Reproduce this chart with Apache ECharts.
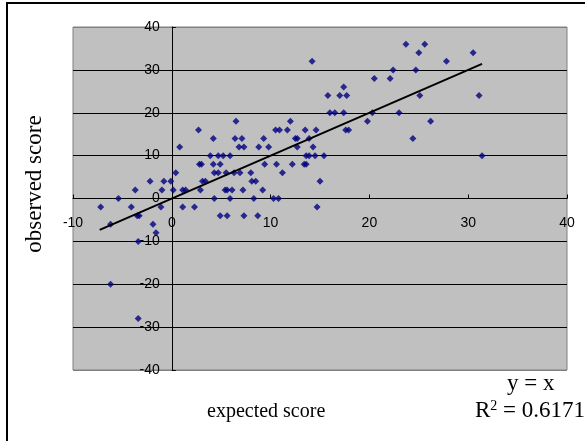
<!DOCTYPE html>
<html>
<head>
<meta charset="utf-8">
<script src="https://cdn.jsdelivr.net/npm/echarts@6/dist/echarts.min.js"></script>
<style>
html,body{margin:0;padding:0;background:#fff;}
#chart{width:585px;height:441px;}
</style>
</head>
<body>
<div id="chart"></div>
<script>
// expected score (x) and observed score (y)
var expectedScores = [
  23.7, 25.6,
  25.0, 30.5,
  14.2, 27.8,
  22.4, 24.7,
  20.5, 22.1,
  17.4,
  15.8, 17.0, 17.7, 25.1, 31.1,
  16.0, 16.5, 17.4, 20.3, 23.0,
  6.5, 12.0, 19.8, 26.2,
  2.7, 10.5, 10.9, 11.7, 13.5, 14.6, 17.6, 17.9,
  4.2, 6.4, 7.1, 9.3, 12.5, 12.7, 13.9, 24.4,
  0.8, 6.8, 7.3, 8.8, 9.8, 12.7, 14.3,
  3.9, 4.7, 5.2, 5.9, 13.6, 13.9, 14.5, 15.4, 31.4,
  2.8, 3.0, 4.2, 4.9, 9.4, 10.6, 12.2, 13.4, 13.6,
  0.4, 4.3, 4.7, 5.5, 6.3, 6.9, 8.0, 11.2,
  -2.2, -0.8, -0.1, 3.1, 3.4, 8.1, 8.5, 15.0,
  -3.7, -1.0, 0.15, 1.1, 1.4, 2.9, 5.4, 5.6, 6.1, 7.2, 9.2,
  -5.4, 4.3, 5.9, 8.3, 10.3, 10.8,
  -7.2, -4.1, -1.1, 1.1, 2.3, 14.7,
  -3.5, -3.3, 4.9, 5.6, 7.3, 8.7,
  -6.2, -1.9,
  -1.6,
  -3.4,
  -6.2,
  -3.4
];
var observedScores = [
  36, 36,
  34, 34,
  32, 32,
  30, 30,
  28, 28,
  26,
  24, 24, 24, 24, 24,
  20, 20, 20, 20, 20,
  18, 18, 18, 18,
  16, 16, 16, 16, 16, 16, 16, 16,
  14, 14, 14, 14, 14, 14, 14, 14,
  12, 12, 12, 12, 12, 12, 12,
  10, 10, 10, 10, 10, 10, 10, 10, 10,
  8, 8, 8, 8, 8, 8, 8, 8, 8,
  6, 6, 6, 6, 6, 6, 6, 6,
  4, 4, 4, 4, 4, 4, 4, 4,
  2, 2, 2, 2, 2, 2, 2, 2, 2, 2, 2,
  0, 0, 0, 0, 0, 0,
  -2, -2, -2, -2, -2, -2,
  -4, -4, -4, -4, -4, -4,
  -6, -6,
  -8,
  -10,
  -20,
  -28
];
// trend line y = x
var trendX = [-7.3, 31.4];
var trendY = [-7.3, 31.4];

var xTicks = [-10, 0, 10, 20, 30, 40];
var yTicks = [-40, -30, -20, -10, 0, 10, 20, 30, 40];

var points = expectedScores.map(function (x, i) { return [x, observedScores[i]]; });
var trend = trendX.map(function (x, i) { return [x, trendY[i]]; });

var chart = echarts.init(document.getElementById('chart'), null, {renderer: 'canvas'});
var gridColors = yTicks.map(function (v, i) { return (i === 0 || i === yTicks.length - 1) ? '#808080' : '#000000'; });

var G = {left: 73, top: 27, width: 494, height: 343};
var xMin = xTicks[0], xMax = xTicks[xTicks.length - 1];
var yMin = yTicks[0], yMax = yTicks[yTicks.length - 1];
// shift axes so they cross at zero
var xAxisOffset = -G.height * (0 - yMin) / (yMax - yMin);
var yAxisOffset = -G.width * (0 - xMin) / (xMax - xMin);

chart.setOption({
  backgroundColor: '#ffffff',
  animation: false,
  grid: {
    left: G.left, top: G.top, width: G.width, height: G.height,
    show: true, backgroundColor: '#C0C0C0', borderColor: '#808080', borderWidth: 1
  },
  xAxis: {
    type: 'value', min: xMin, max: xMax, interval: 10, offset: xAxisOffset,
    axisLine: {show: true, onZero: false, lineStyle: {color: '#000', width: 1}},
    axisTick: {show: true, inside: true, length: 4, lineStyle: {color: '#000'}},
    axisLabel: {color: '#000', fontSize: 14, fontFamily: 'Liberation Sans', margin: 18},
    splitLine: {show: false}
  },
  yAxis: {
    type: 'value', min: yMin, max: yMax, interval: 10, offset: yAxisOffset,
    axisLine: {show: true, onZero: false, lineStyle: {color: '#000', width: 1}},
    axisTick: {show: true, inside: true, length: 4, lineStyle: {color: '#000'}},
    axisLabel: {color: '#000', fontSize: 14, fontFamily: 'Liberation Sans', margin: 12},
    splitLine: {show: true, lineStyle: {color: gridColors, width: 1}}
  },
  series: [
    {
      type: 'scatter', data: points, symbol: 'diamond', symbolSize: 7,
      itemStyle: {color: '#000080'}, z: 3
    },
    {
      type: 'line', data: trend, symbol: 'none', showSymbol: false,
      lineStyle: {color: '#000', width: 2}, z: 4
    }
  ],
  graphic: [
    {type: 'rect', shape: {x: 7, y: 3, width: 700, height: 600}, style: {fill: 'none', stroke: '#000', lineWidth: 2}, silent: true},
    {type: 'text', left: 207, top: 402, style: {text: 'expected score', font: '20px "Liberation Serif"', fill: '#000'}},
    {type: 'text', x: 35, y: 184, rotation: Math.PI / 2, style: {text: 'observed score', font: '23px "Liberation Serif"', fill: '#000', align: 'center', verticalAlign: 'middle'}},
    {type: 'text', left: 507, top: 372, style: {text: 'y = x', font: '23px "Liberation Serif"', fill: '#000'}},
    {type: 'text', left: 475, top: 399, style: {rich: {n: {font: '23px "Liberation Serif"', fill: '#000'}, s: {font: '14px "Liberation Serif"', fill: '#000', verticalAlign: 'top', padding: [0,0,10,0]}}, text: '{n|R}{s|2}{n| = 0.6171}'}}
  ]
});
</script>
</body>
</html>
